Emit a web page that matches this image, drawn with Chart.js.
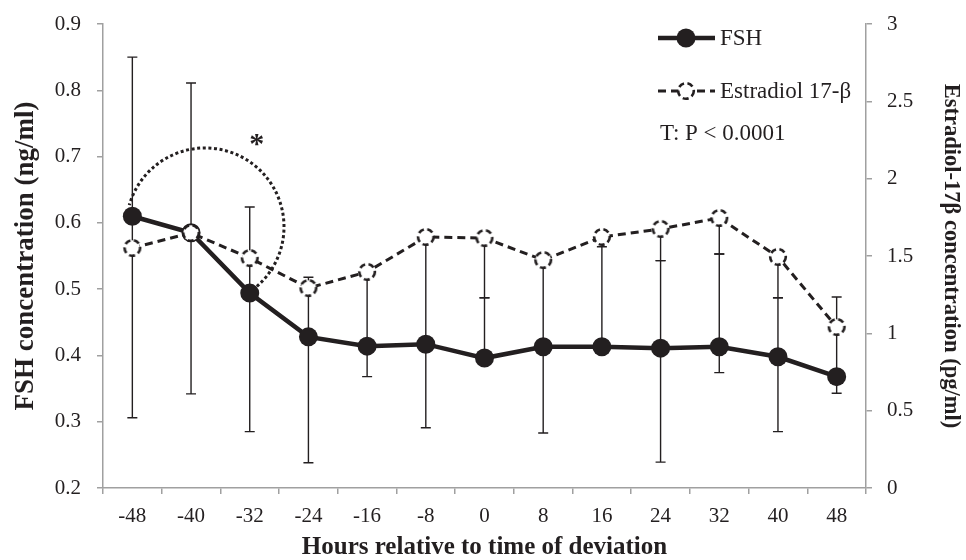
<!DOCTYPE html>
<html>
<head>
<meta charset="utf-8">
<script src="https://cdn.jsdelivr.net/npm/chart.js@4/dist/chart.umd.min.js"></script>
<style>
  html, body { margin: 0; padding: 0; background: #fff; }
  #wrap { width: 966px; height: 560px; position: relative; }
</style>
</head>
<body>
<div id="wrap"><canvas id="chart"></canvas></div>
<script>
const hours = ["-48", "-40", "-32", "-24", "-16", "-8", "0", "8", "16", "24", "32", "40", "48"];
const fsh = [0.61, 0.585, 0.494, 0.428, 0.414, 0.417, 0.396, 0.413, 0.413, 0.411, 0.413, 0.398, 0.368];
const estradiol = [1.552, 1.649, 1.487, 1.293, 1.397, 1.623, 1.616, 1.474, 1.623, 1.675, 1.746, 1.494, 1.041];
// error bar ends (null = not visible)
const fshLow = [0.306, 0.342, 0.285, 0.238, 0.368, 0.291, null, 0.283, null, 0.239, 0.374, 0.285, 0.343];
const fshHigh = [0.85, 0.811, 0.624, 0.518, 0.526, 0.579, 0.487, 0.544, 0.564, 0.543, 0.553, 0.487, null];
const e2Low = [null, null, null, null, null, null, 1.229, null, null, 1.47, 1.513, 1.229, 0.72];
const e2High = [null, null, null, null, null, null, null, null, null, null, null, null, 1.235];
const leftTicks = [0.2, 0.3, 0.4, 0.5, 0.6, 0.7, 0.8, 0.9];
const rightTicks = [0, 0.5, 1, 1.5, 2, 2.5, 3];

const ink = "#231f20";
const axisGrey = "#a0a0a0";
const serif = "'Liberation Serif', 'DejaVu Serif', serif";

// open circle with a dashed rim for the estradiol points
function dashedCircle(r) {
  const c = document.createElement("canvas");
  const s = Math.ceil(2 * r + 6);
  c.width = s; c.height = s;
  const g = c.getContext("2d");
  g.beginPath();
  g.arc(s / 2, s / 2, r, 0, Math.PI * 2);
  g.fillStyle = "#fff";
  g.fill();
  g.setLineDash([6, 3.5]);
  g.lineWidth = 2.6;
  g.strokeStyle = ink;
  g.stroke();
  return c;
}
const openMarker = dashedCircle(7.8);

const errorBars = {
  id: "errorBars",
  beforeDatasetsDraw(chart) {
    const { ctx, scales } = chart;
    const x = scales.x, yl = scales.y, yr = scales.y1;
    ctx.save();
    ctx.strokeStyle = ink;
    ctx.lineWidth = 1.4;
    const cap = 5;
    function bar(i, from, to, axis) {
      if (to === null) return;
      const px = x.getPixelForValue(i);
      const a = axis.getPixelForValue(from), b = axis.getPixelForValue(to);
      ctx.beginPath();
      ctx.moveTo(px, a); ctx.lineTo(px, b);
      ctx.moveTo(px - cap, b); ctx.lineTo(px + cap, b);
      ctx.stroke();
    }
    hours.forEach((h, i) => {
      bar(i, fsh[i], fshLow[i], yl);
      bar(i, fsh[i], fshHigh[i], yl);
      bar(i, estradiol[i], e2Low[i], yr);
      bar(i, estradiol[i], e2High[i], yr);
    });
    ctx.restore();
  }
};

const annotations = {
  id: "annotations",
  afterDatasetsDraw(chart) {
    const { ctx, scales, chartArea } = chart;
    const x = scales.x, y = scales.y;
    ctx.save();
    // dotted circle around the early points
    const cx = x.getPixelForValue(1.24);
    const cy = y.getPixelForValue(0.594);
    const r = y.getPixelForValue(0.594) - y.getPixelForValue(0.713);
    ctx.beginPath();
    ctx.arc(cx, cy, r, 49 * Math.PI / 180, 196 * Math.PI / 180, true);
    ctx.setLineDash([3, 2.6]);
    ctx.lineWidth = 3;
    ctx.strokeStyle = ink;
    ctx.stroke();
    ctx.setLineDash([]);
    ctx.fillStyle = ink;
    ctx.font = "bold 30px " + serif;
    ctx.textAlign = "center";
    ctx.textBaseline = "alphabetic";
    const m = ctx.measureText("*");
    ctx.fillText("*", x.getPixelForValue(2.12),
      y.getPixelForValue(0.725) + (m.actualBoundingBoxAscent - m.actualBoundingBoxDescent) / 2);

    // legend
    const lx = chartArea.right - 208;
    const rows = [chartArea.top + 14, chartArea.top + 67];
    ctx.font = "23px " + serif;
    ctx.textAlign = "left";
    ctx.textBaseline = "middle";
    ctx.lineWidth = 4.5;
    ctx.beginPath();
    ctx.moveTo(lx, rows[0]); ctx.lineTo(lx + 57, rows[0]);
    ctx.stroke();
    ctx.beginPath();
    ctx.arc(lx + 28, rows[0], 9.5, 0, Math.PI * 2);
    ctx.fill();
    ctx.fillText("FSH", lx + 62, rows[0] + 1);
    ctx.lineWidth = 3;
    ctx.setLineDash([8, 5]);
    ctx.beginPath();
    ctx.moveTo(lx, rows[1]); ctx.lineTo(lx + 57, rows[1]);
    ctx.stroke();
    ctx.setLineDash([]);
    ctx.drawImage(openMarker, lx + 28 - openMarker.width / 2, rows[1] - openMarker.height / 2);
    ctx.fillText("Estradiol 17-\u03b2", lx + 62, rows[1] + 1);
    ctx.fillText("T: P < 0.0001", lx + 2, chartArea.top + 110);
    ctx.restore();
  }
};

function fixVertical(width) {
  return (s) => {
    s.width = width;
    s.paddingTop = 0;
    s.paddingBottom = 0;
  };
}

const ctx = document.getElementById("chart").getContext("2d");
const chart = new Chart(ctx, {
  type: "line",
  data: {
    labels: hours,
    datasets: [
      {
        label: "FSH",
        data: fsh,
        yAxisID: "y",
        order: 2,
        borderColor: ink,
        borderWidth: 4.5,
        pointBackgroundColor: ink,
        pointBorderColor: ink,
        pointRadius: 9.5,
        pointBorderWidth: 0,
        tension: 0,
      },
      {
        label: "Estradiol 17-\u03b2",
        data: estradiol,
        yAxisID: "y1",
        order: 1,
        borderColor: ink,
        borderWidth: 3,
        borderDash: [8, 5],
        pointStyle: openMarker,
        tension: 0,
      },
    ],
  },
  options: {
    responsive: true,
    maintainAspectRatio: false,
    animation: false,
    layout: { padding: { top: 24, left: 0, right: 0, bottom: 0 } },
    plugins: {
      legend: { display: false },
      tooltip: { enabled: false },
    },
    scales: {
      x: {
        offset: true,
        afterFit: (s) => { s.height = 72; },
        border: { display: true, color: axisGrey, width: 1.5 },
        grid: { display: true, offset: true, drawOnChartArea: false, drawTicks: true, tickLength: 6, color: axisGrey, lineWidth: 1.5 },
        ticks: { color: ink, font: { family: serif, size: 21 }, padding: 10, maxRotation: 0 },
        title: { display: true, text: "Hours relative to time of deviation", color: ink, font: { family: serif, size: 25, weight: "bold" }, padding: { top: 0, bottom: -3 } },
      },
      y: {
        position: "left",
        min: leftTicks[0],
        max: leftTicks[leftTicks.length - 1],
        afterFit: fixVertical(103),
        afterBuildTicks: (s) => { s.ticks = leftTicks.map((v) => ({ value: v })); },
        border: { display: true, color: axisGrey, width: 1.5 },
        grid: { drawOnChartArea: false, drawTicks: true, tickLength: 6, color: axisGrey, lineWidth: 1.5 },
        ticks: { color: ink, font: { family: serif, size: 21 }, padding: 16, callback: (v) => Number(v).toFixed(1) },
        title: { display: true, text: "FSH concentration (ng/ml)", color: ink, font: { family: serif, size: 27, weight: "bold" }, padding: { top: 10, bottom: 0 } },
      },
      y1: {
        position: "right",
        min: rightTicks[0],
        max: rightTicks[rightTicks.length - 1],
        afterFit: fixVertical(100),
        afterBuildTicks: (s) => { s.ticks = rightTicks.map((v) => ({ value: v })); },
        border: { display: true, color: axisGrey, width: 1.5 },
        grid: { drawOnChartArea: false, drawTicks: true, tickLength: 6, color: axisGrey, lineWidth: 1.5 },
        ticks: { color: ink, font: { family: serif, size: 21 }, padding: 15, callback: (v) => String(v) },
        title: { display: true, text: "Estradiol-17\u03b2 concentration (pg/ml)", color: ink, font: { family: serif, size: 22.5, weight: "bold" }, padding: { top: 2, bottom: 0 } },
      },
    },
  },
  plugins: [errorBars, annotations],
});
</script>
</body>
</html>
